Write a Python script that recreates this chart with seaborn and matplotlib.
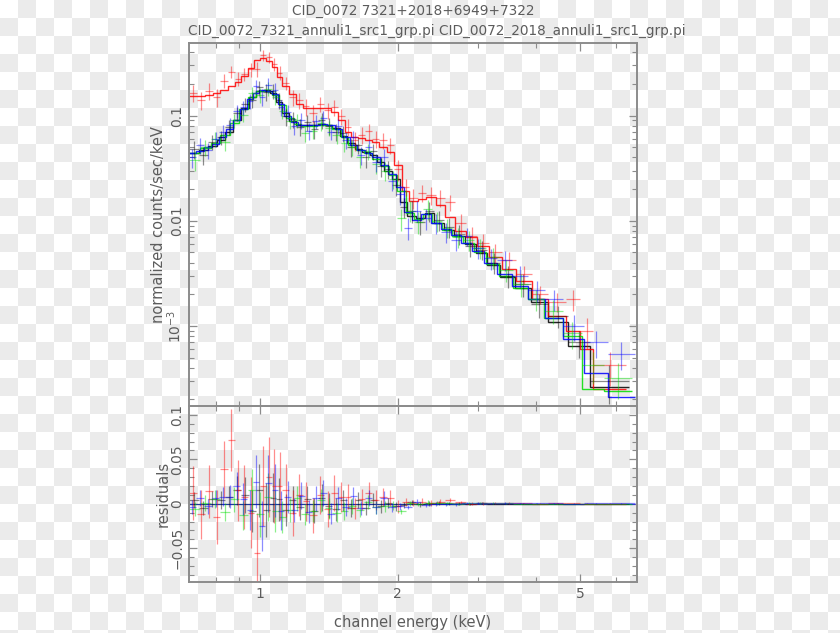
import numpy as np
import matplotlib
matplotlib.use("Agg")
import matplotlib.pyplot as plt
import seaborn as sns
from matplotlib.ticker import FixedLocator, FixedFormatter, NullFormatter, LogLocator

# ---- spectra (keV bin edges, counts/sec/keV) ----
black_edges = [0.70, 0.735, 0.77, 0.805, 0.84, 0.875, 0.91, 0.945, 0.98, 1.015,
               1.05, 1.085, 1.12, 1.16, 1.20, 1.245, 1.29, 1.34, 1.39, 1.44,
               1.495, 1.55, 1.61, 1.67, 1.735, 1.80, 1.87, 1.945, 2.02, 2.10,
               2.19, 2.29, 2.40, 2.52, 2.65, 2.80, 2.96, 3.14, 3.35, 3.60,
               3.90, 4.25, 4.70, 5.25, 6.40]
black_model = [0.044, 0.047, 0.051, 0.058, 0.070, 0.090, 0.118, 0.150, 0.170, 0.175,
               0.165, 0.135, 0.105, 0.088, 0.082, 0.081, 0.082, 0.083, 0.082, 0.076,
               0.064, 0.055, 0.048, 0.045, 0.042, 0.036, 0.030, 0.025, 0.0150, 0.0110,
               0.0105, 0.0118, 0.0095, 0.0082, 0.0071, 0.0060, 0.0049, 0.0038, 0.0029, 0.0023,
               0.0017, 0.0011, 0.00065, 0.00026]
black_data = [0.048, 0.042, 0.056, 0.062, 0.078, 0.105, 0.128, 0.142, 0.185, 0.168,
              0.172, 0.140, 0.098, 0.092, 0.078, 0.086, 0.074, 0.090, 0.080, 0.070,
              0.068, 0.050, 0.052, 0.040, 0.046, 0.033, 0.031, 0.022, 0.0135, 0.0125,
              0.0098, 0.0124, 0.0102, 0.0088, 0.0075, 0.0058, 0.0053, 0.0040, 0.0030, 0.0025,
              0.0016, 0.00125, 0.00070, 0.00030]
black_err = [0.009, 0.008, 0.009, 0.010, 0.012, 0.016, 0.020, 0.024, 0.030, 0.030,
             0.028, 0.024, 0.018, 0.016, 0.014, 0.015, 0.014, 0.015, 0.014, 0.013,
             0.012, 0.010, 0.009, 0.008, 0.008, 0.007, 0.006, 0.005, 0.003, 0.003,
             0.0025, 0.0026, 0.0022, 0.0019, 0.0016, 0.0013, 0.0011, 0.0009, 0.0007, 0.0006,
             0.0004, 0.0003, 0.0002, 0.00012]

red_edges = [0.70, 0.73, 0.76, 0.79, 0.82, 0.85, 0.88, 0.91, 0.94, 0.97,
             1.00, 1.03, 1.06, 1.09, 1.12, 1.16, 1.20, 1.24, 1.28, 1.33,
             1.38, 1.43, 1.48, 1.53, 1.58, 1.64, 1.70, 1.76, 1.82, 1.89,
             1.96, 2.04, 2.12, 2.21, 2.31, 2.42, 2.54, 2.67, 2.82, 2.98,
             3.16, 3.38, 3.63, 3.93, 4.25, 4.65, 5.00, 5.35, 6.30]
red_model = [0.153, 0.152, 0.158, 0.165, 0.176, 0.190, 0.210, 0.240, 0.285, 0.335,
             0.355, 0.330, 0.290, 0.235, 0.190, 0.160, 0.130, 0.119, 0.118, 0.118,
             0.118, 0.108, 0.090, 0.070, 0.063, 0.061, 0.059, 0.056, 0.050, 0.045,
             0.034, 0.019, 0.0155, 0.0160, 0.0168, 0.0140, 0.0108, 0.0080, 0.0070, 0.0058,
             0.0045, 0.0035, 0.0027, 0.0018, 0.00125, 0.00090, 0.00060, 0.00025]
red_data = [0.165, 0.140, 0.172, 0.150, 0.215, 0.262, 0.225, 0.248, 0.275, 0.280,
            0.375, 0.360, 0.310, 0.255, 0.205, 0.150, 0.140, 0.122, 0.105, 0.128,
            0.112, 0.120, 0.098, 0.078, 0.058, 0.066, 0.071, 0.060, 0.058, 0.052,
            0.031, 0.021, 0.0165, 0.0185, 0.0175, 0.0165, 0.0150, 0.0095, 0.0072, 0.0062,
            0.0050, 0.0042, 0.0031, 0.0020, 0.0017, 0.0018, 0.0009, 0.00042]
red_err = [0.030, 0.028, 0.030, 0.030, 0.032, 0.035, 0.034, 0.036, 0.040, 0.045,
           0.045, 0.045, 0.042, 0.038, 0.030, 0.026, 0.024, 0.022, 0.020, 0.021,
           0.020, 0.020, 0.017, 0.014, 0.012, 0.012, 0.012, 0.011, 0.010, 0.009,
           0.007, 0.004, 0.0035, 0.0035, 0.0035, 0.003, 0.0025, 0.002, 0.0016, 0.0013,
           0.0010, 0.0008, 0.0006, 0.0004, 0.00035, 0.0004, 0.0003, 0.00015]

green_edges = [0.70, 0.74, 0.78, 0.82, 0.86, 0.90, 0.94, 0.98, 1.02, 1.06,
               1.10, 1.14, 1.185, 1.23, 1.28, 1.33, 1.385, 1.44, 1.50, 1.56,
               1.625, 1.69, 1.76, 1.835, 1.91, 1.99, 2.08, 2.17, 2.27, 2.38,
               2.50, 2.63, 2.78, 2.94, 3.12, 3.33, 3.57, 3.85, 4.18, 4.58,
               5.05, 5.65, 6.50]
green_model = [0.044, 0.049, 0.055, 0.065, 0.085, 0.115, 0.150, 0.170, 0.172, 0.158,
               0.125, 0.095, 0.084, 0.080, 0.080, 0.081, 0.081, 0.075, 0.063, 0.053,
               0.047, 0.044, 0.039, 0.033, 0.027, 0.019, 0.0118, 0.0103, 0.0116, 0.0095,
               0.0082, 0.0071, 0.0061, 0.0050, 0.0039, 0.0030, 0.0023, 0.0018, 0.0012, 0.00080,
               0.00025, 0.00024]
green_data = [0.038, 0.050, 0.060, 0.056, 0.090, 0.102, 0.165, 0.158, 0.180, 0.150,
              0.110, 0.088, 0.090, 0.068, 0.072, 0.085, 0.076, 0.065, 0.055, 0.050,
              0.040, 0.046, 0.035, 0.030, 0.025, 0.0105, 0.0125, 0.0098, 0.0130, 0.0100,
              0.0086, 0.0070, 0.0066, 0.0055, 0.0045, 0.0034, 0.0025, 0.0018, 0.0014, 0.00085,
              0.00042, 0.00032]
green_err = [0.008, 0.009, 0.010, 0.010, 0.014, 0.016, 0.024, 0.025, 0.027, 0.024,
             0.018, 0.014, 0.014, 0.012, 0.012, 0.013, 0.012, 0.011, 0.010, 0.009,
             0.008, 0.008, 0.007, 0.006, 0.005, 0.0025, 0.0028, 0.0023, 0.0028, 0.0022,
             0.0018, 0.0015, 0.0014, 0.0012, 0.0010, 0.0008, 0.0006, 0.0004, 0.00035, 0.00025,
             0.00014, 0.00012]

blue_edges = [0.70, 0.725, 0.755, 0.785, 0.815, 0.845, 0.875, 0.905, 0.935, 0.965,
              0.995, 1.025, 1.06, 1.095, 1.13, 1.17, 1.21, 1.255, 1.30, 1.35,
              1.40, 1.455, 1.51, 1.57, 1.63, 1.695, 1.76, 1.83, 1.90, 1.98,
              2.06, 2.15, 2.25, 2.36, 2.48, 2.61, 2.75, 2.91, 3.09, 3.30,
              3.55, 3.85, 4.20, 4.60, 5.10, 5.75, 6.60]
blue_model = [0.044, 0.046, 0.050, 0.054, 0.062, 0.074, 0.090, 0.115, 0.145, 0.165,
              0.175, 0.172, 0.160, 0.128, 0.100, 0.087, 0.081, 0.081, 0.082, 0.083,
              0.081, 0.074, 0.062, 0.053, 0.047, 0.044, 0.040, 0.034, 0.028, 0.021,
              0.0122, 0.0102, 0.0117, 0.0096, 0.0083, 0.0073, 0.0062, 0.0051, 0.0040, 0.0031,
              0.0024, 0.0018, 0.0012, 0.00075, 0.00036, 0.00021]
blue_data = [0.040, 0.052, 0.047, 0.060, 0.070, 0.082, 0.110, 0.120, 0.138, 0.190,
             0.150, 0.195, 0.175, 0.120, 0.108, 0.080, 0.090, 0.072, 0.088, 0.095,
             0.070, 0.080, 0.058, 0.062, 0.042, 0.050, 0.036, 0.040, 0.024, 0.018,
             0.0085, 0.0125, 0.0105, 0.0095, 0.0078, 0.0065, 0.0072, 0.0055, 0.0044, 0.0042,
             0.0030, 0.0022, 0.0018, 0.0010, 0.00070, 0.00054]
blue_err = [0.008, 0.009, 0.008, 0.010, 0.011, 0.013, 0.016, 0.018, 0.022, 0.030,
            0.028, 0.032, 0.030, 0.022, 0.018, 0.014, 0.015, 0.013, 0.014, 0.015,
            0.012, 0.013, 0.010, 0.010, 0.008, 0.009, 0.007, 0.008, 0.005, 0.004,
            0.002, 0.0028, 0.0024, 0.0021, 0.0017, 0.0014, 0.0014, 0.0012, 0.0010, 0.0009,
            0.0007, 0.0005, 0.0004, 0.00028, 0.0002, 0.00016]

title_top = "CID_0072 7321+2018+6949+7322"
title_files = "CID_0072_7321_annuli1_src1_grp.pi CID_0072_2018_annuli1_src1_grp.pi"

spectra = [
    (black_edges, black_model, black_data, black_err, "#000000"),
    (red_edges, red_model, red_data, red_err, "#ff0000"),
    (green_edges, green_model, green_data, green_err, "#00dd00"),
    (blue_edges, blue_model, blue_data, blue_err, "#0000ff"),
]

sns.set_theme(style="ticks")
plt.rcParams["font.family"] = ["DejaVu Sans"]
grey = "#8c8c8c"
txt = "#5c5c5c"

fig = plt.figure(figsize=(8.4, 6.33), dpi=100)
fig.patch.set_facecolor("white")

# transparent-background checkerboard as in the reference
rows, cols = np.indices((633, 840))
checker = np.where(((rows // 18) + (cols // 18)) % 2 == 1, 0.922, 1.0)
fig.figimage(np.dstack([checker] * 3), xo=0, yo=0, zorder=-5)

ax = fig.add_axes([189 / 840, 1 - 406 / 633, 448 / 840, 363 / 633])
ax2 = fig.add_axes([189 / 840, 1 - 582 / 633, 448 / 840, 176 / 633], sharex=ax)

for edges, model, data, err, col in spectra:
    e = np.array(edges)
    mid = np.sqrt(e[:-1] * e[1:])
    xerr = [mid - e[:-1], e[1:] - mid]
    d = np.array(data)
    m = np.array(model)
    ax.errorbar(mid, d, xerr=xerr, yerr=err, fmt="none", ecolor=col,
                alpha=0.45, elinewidth=0.9, capsize=0)
    ax.stairs(m, e, baseline=None, color=col, lw=1.0, alpha=0.85)
    ax2.errorbar(mid, d - m, xerr=xerr, yerr=err, fmt="none", ecolor=col,
                 alpha=0.45, elinewidth=0.9, capsize=0)
    ax2.stairs(np.zeros_like(m), e, baseline=None, color=col, lw=0.8, alpha=0.6)

for a in (ax, ax2):
    a.set_facecolor("none")
    a.set_xscale("log")
    for s in a.spines.values():
        s.set_color(grey)
        s.set_linewidth(1.4)
    a.tick_params(which="both", direction="in", top=True, right=True,
                  color=grey, labelcolor=txt, labelsize=10)
    a.tick_params(which="major", length=6, width=0.9)
    a.tick_params(which="minor", length=3.5, width=0.8)

ax.set_xlim(0.70, 6.66)
ax.set_yscale("log")
ax.set_ylim(1.73e-4, 0.49)
ax.xaxis.set_major_locator(FixedLocator([1, 2, 5]))
ax.xaxis.set_minor_locator(FixedLocator([0.8, 0.9, 3, 4, 6]))
ax.xaxis.set_minor_formatter(NullFormatter())
ax.tick_params(axis="x", labelbottom=False)
ax.yaxis.set_major_locator(FixedLocator([1e-3, 1e-2, 1e-1]))
ax.yaxis.set_major_formatter(FixedFormatter(["$10^{-3}$", "0.01", "0.1"]))
ax.yaxis.set_minor_locator(LogLocator(base=10, subs=np.arange(2, 10)))
ax.yaxis.set_minor_formatter(NullFormatter())
ax.set_ylabel("normalized counts/sec/keV", color=txt, fontsize=10.5, labelpad=0)

ax2.set_ylim(-0.088, 0.110)
ax2.yaxis.set_major_locator(FixedLocator([-0.05, 0, 0.05, 0.1]))
ax2.yaxis.set_major_formatter(FixedFormatter(["\u22120.05", "0", "0.05", "0.1"]))
ax2.yaxis.set_minor_locator(FixedLocator(np.arange(-0.08, 0.11, 0.01)))
ax2.xaxis.set_major_formatter(FixedFormatter(["1", "2", "5"]))
ax2.set_ylabel("residuals", color=txt, fontsize=10.5, labelpad=0)
ax2.set_xlabel("channel energy (keV)", color=txt, fontsize=10.5, labelpad=10)

for a in (ax, ax2):
    for lab in a.get_yticklabels():
        lab.set_rotation(90)
        lab.set_va("center")

fig.text(413 / 840, 1 - 11 / 633, title_top, ha="center", va="center",
         color=txt, fontsize=9.8)
fig.text(188 / 840, 1 - 31 / 633, title_files, ha="left", va="center",
         color=txt, fontsize=9.8)

fig.savefig("out.png", dpi=100)
